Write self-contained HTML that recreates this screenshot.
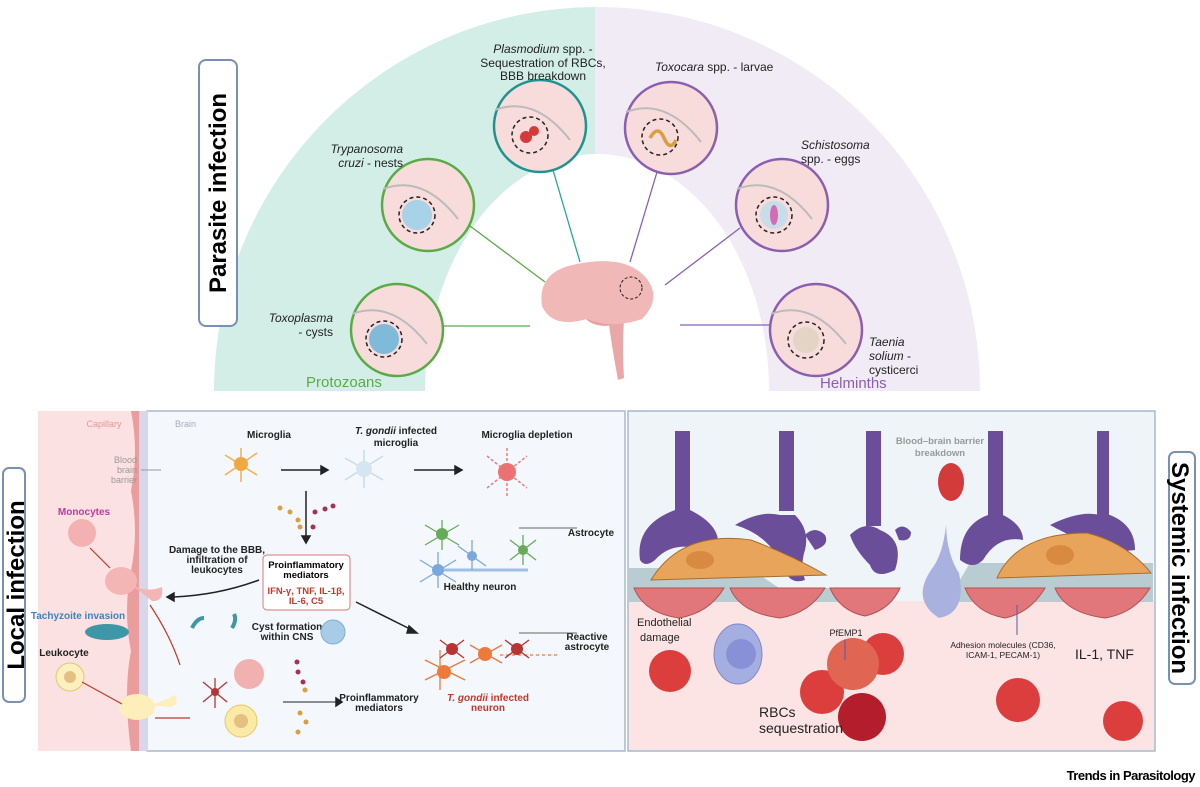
<!DOCTYPE html>
<html><head><meta charset="utf-8"><style>
body{margin:0;background:#fff;}
svg{display:block;font-family:"Liberation Sans",sans-serif;}
.i{font-style:italic}
</style></head><body>
<svg width="1200" height="787" viewBox="0 0 1200 787" xmlns="http://www.w3.org/2000/svg">
<defs>
<clipPath id="L"><rect x="0" y="0" width="595" height="391"/></clipPath>
<clipPath id="R"><rect x="595" y="0" width="605" height="391"/></clipPath>
</defs>
<!-- arc band -->
<ellipse cx="597" cy="391" rx="383" ry="384" fill="#d3eee7" clip-path="url(#L)"/>
<ellipse cx="597" cy="391" rx="383" ry="384" fill="#f1ebf5" clip-path="url(#R)"/>
<ellipse cx="597" cy="391" rx="172" ry="237" fill="#fff" clip-path="url(#L)"/>
<ellipse cx="597" cy="391" rx="172" ry="237" fill="#fff" clip-path="url(#R)"/>
<text x="306" y="387" font-size="15" fill="#5aab46">Protozoans</text>
<text x="820" y="388" font-size="15" fill="#8a5fb0">Helminths</text>
<!-- connectors -->
<g stroke-width="1.3">
<line x1="443" y1="326" x2="530" y2="326" stroke="#5aab46"/>
<line x1="470" y1="226" x2="545" y2="282" stroke="#5aab46"/>
<line x1="553" y1="170" x2="580" y2="262" stroke="#2aa3a0"/>
<line x1="657" y1="172" x2="630" y2="262" stroke="#8a5fb0"/>
<line x1="740" y1="228" x2="665" y2="285" stroke="#8a5fb0"/>
<line x1="680" y1="325" x2="770" y2="325" stroke="#8a5fb0"/>
</g>
<!-- brain -->
<g>
<ellipse cx="605" cy="312" rx="22" ry="14" fill="#e9a2a4"/>
<path d="M608 318 q4 30 10 62 l6 -2 q-2 -30 0 -58z" fill="#eaa7a8"/>
<path d="M542 306 q-5 -35 35 -42 q50 -10 70 15 q15 20 -5 40 q-30 10 -55 0 q-35 10 -45 -13z" fill="#f1b8b8"/>
<circle cx="631" cy="288" r="11" fill="none" stroke="#222" stroke-dasharray="3,2"/>
</g>
<!-- circles -->
<g stroke-width="2.5" fill="#f7dcdb">
<circle cx="397" cy="330" r="46" stroke="#5aab46"/>
<circle cx="428" cy="205" r="46" stroke="#5aab46"/>
<circle cx="540" cy="126" r="46" stroke="#1f948f"/>
<circle cx="671" cy="128" r="46" stroke="#8a5fb0"/>
<circle cx="782" cy="205" r="46" stroke="#8a5fb0"/>
<circle cx="816" cy="330" r="46" stroke="#8a5fb0"/>
</g>
<g fill="none" stroke="#bbb" stroke-width="2">
<path d="M352 314 q40 -15 75 30"/><path d="M383 189 q40 -15 75 30"/><path d="M495 110 q40 -15 75 30"/>
<path d="M626 112 q40 -15 75 30"/><path d="M737 189 q40 -15 75 30"/><path d="M771 314 q40 -15 75 30"/>
</g>
<g fill="none" stroke="#222" stroke-width="1.5" stroke-dasharray="4,3">
<circle cx="384" cy="339" r="18"/><circle cx="417" cy="215" r="18"/>
<circle cx="530" cy="135" r="18"/><circle cx="660" cy="137" r="18"/>
<circle cx="774" cy="215" r="18"/><circle cx="806" cy="340" r="18"/>
</g>
<circle cx="384" cy="339" r="15" fill="#7fbbd8"/><circle cx="417" cy="215" r="15" fill="#a7d2e8"/>
<circle cx="526" cy="137" r="6" fill="#d53a3a"/><circle cx="534" cy="131" r="5" fill="#d53a3a"/>
<path d="M650 138 q8 -14 14 0 t12 2" stroke="#d8a040" stroke-width="3.5" fill="none"/>
<circle cx="774" cy="215" r="14" fill="#c7dde8"/><ellipse cx="774" cy="215" rx="4" ry="10" fill="#d56ab5"/>
<circle cx="806" cy="340" r="13" fill="#e2d5c6"/>
<g font-size="12" fill="#222">
<text x="543" y="53" text-anchor="middle"><tspan class="i">Plasmodium</tspan> spp. -</text>
<text x="543" y="67" text-anchor="middle">Sequestration of RBCs,</text>
<text x="543" y="80" text-anchor="middle">BBB breakdown</text>
<text x="655" y="71"><tspan class="i">Toxocara</tspan> spp. - larvae</text>
<text x="403" y="153" text-anchor="end" class="i">Trypanosoma</text>
<text x="403" y="167" text-anchor="end"><tspan class="i">cruzi</tspan> - nests</text>
<text x="801" y="149" class="i">Schistosoma</text>
<text x="801" y="163">spp. - eggs</text>
<text x="333" y="322" text-anchor="end" class="i">Toxoplasma</text>
<text x="333" y="336" text-anchor="end">- cysts</text>
<text x="869" y="346" class="i">Taenia</text>
<text x="869" y="360"><tspan class="i">solium</tspan> -</text>
<text x="869" y="374">cysticerci</text>
</g>
<!-- side labels -->
<rect x="199" y="60" width="38" height="266" rx="7" fill="#fff" stroke="#7a8fb5" stroke-width="2"/>
<text transform="translate(226,193) rotate(-90)" text-anchor="middle" font-size="24" font-weight="bold">Parasite infection</text>
<rect x="3" y="468" width="22" height="234" rx="6" fill="#fff" stroke="#7a8fb5" stroke-width="2"/>
<text transform="translate(24,585) rotate(-90)" text-anchor="middle" font-size="24" font-weight="bold">Local infection</text>
<rect x="1169" y="452" width="26" height="232" rx="6" fill="#fff" stroke="#7a8fb5" stroke-width="2"/>
<text transform="translate(1172,568) rotate(90)" text-anchor="middle" font-size="24" font-weight="bold">Systemic infection</text>
<!-- local panel -->
<rect x="38" y="411" width="110" height="340" fill="#fbe1e1"/>
<rect x="147" y="411" width="478" height="340" fill="#f4f7fb" stroke="#a9b8cf" stroke-width="1.5"/>
<rect x="139" y="411" width="9" height="340" fill="#d8d6ea"/>
<path d="M131 411 q8 40 0 80 q8 40 0 80 q-8 40 0 80 q-8 40 0 100 h8 v-340z" fill="#eb9c9c"/>
<g font-size="9" fill="#999"><text x="104" y="427" text-anchor="middle" fill="#e09a9a">Capillary</text><text x="175" y="427" fill="#aab">Brain</text>
<text x="137" y="463" text-anchor="end">Blood</text><text x="137" y="473" text-anchor="end">brain</text><text x="137" y="483" text-anchor="end">barrier</text></g>
<line x1="141" y1="470" x2="161" y2="470" stroke="#999"/>
<g font-size="10" font-weight="bold" fill="#222">
<text x="269" y="438" text-anchor="middle">Microglia</text>
<text x="396" y="434" text-anchor="middle"><tspan class="i">T. gondii</tspan> infected</text>
<text x="396" y="446" text-anchor="middle">microglia</text>
<text x="527" y="438" text-anchor="middle">Microglia depletion</text>
<text x="217" y="553" text-anchor="middle">Damage to the BBB,</text>
<text x="217" y="563" text-anchor="middle">infiltration of</text>
<text x="217" y="573" text-anchor="middle">leukocytes</text>
<text x="591" y="536" text-anchor="middle">Astrocyte</text>
<text x="480" y="590" text-anchor="middle">Healthy neuron</text>
<text x="587" y="640" text-anchor="middle">Reactive</text><text x="587" y="650" text-anchor="middle">astrocyte</text>
<text x="287" y="630" text-anchor="middle">Cyst formation</text><text x="287" y="640" text-anchor="middle">within CNS</text>
<text x="379" y="701" text-anchor="middle">Proinflammatory</text><text x="379" y="711" text-anchor="middle">mediators</text>
<text x="84" y="515" fill="#c03aa0" text-anchor="middle">Monocytes</text>
<text x="78" y="619" fill="#3b83c0" text-anchor="middle">Tachyzoite invasion</text>
<text x="64" y="656" text-anchor="middle">Leukocyte</text>
</g>
<text x="488" y="701" font-size="10" font-weight="bold" fill="#c0392b" text-anchor="middle"><tspan class="i">T. gondii</tspan> infected</text>
<text x="488" y="711" font-size="10" font-weight="bold" fill="#c0392b" text-anchor="middle">neuron</text>
<rect x="263" y="555" width="87" height="55" rx="4" fill="#fff" stroke="#d87a7a"/>
<g font-size="9.5" font-weight="bold" text-anchor="middle"><text x="306" y="568">Proinflammatory</text><text x="306" y="578">mediators</text>
<text x="306" y="594" fill="#c0392b">IFN-γ, TNF, IL-1β,</text><text x="306" y="604" fill="#c0392b">IL-6, C5</text></g>
<g stroke="#222" stroke-width="1.5" fill="#222">
<line x1="281" y1="470" x2="321" y2="470"/><path d="M321 466 l7 4 -7 4z"/>
<line x1="414" y1="470" x2="455" y2="470"/><path d="M455 466 l7 4 -7 4z"/>
<line x1="306" y1="491" x2="306" y2="536"/><path d="M302 536 l4 7 4-7z"/>
<line x1="283" y1="702" x2="336" y2="702" stroke-width="1"/><path d="M336 698 l6 4 -6 4z"/>
<line x1="356" y1="602" x2="412" y2="630"/><path d="M409 626 l8 7 -10 0z"/>
<path d="M259 580 q-40 15 -85 17" fill="none"/><path d="M174 593 l-7 4 7 4z"/>
<line x1="519" y1="528" x2="577" y2="528" stroke="#666" stroke-width="1"/>
<line x1="519" y1="633" x2="577" y2="633" stroke="#666" stroke-width="1"/>
</g>
<g fill="#d8a040"><circle cx="280" cy="508" r="2.5"/><circle cx="290" cy="512" r="2.5"/><circle cx="298" cy="520" r="2.5"/><circle cx="300" cy="527" r="2.5"/><circle cx="305" cy="690" r="2.5"/><circle cx="300" cy="713" r="2.5"/><circle cx="306" cy="722" r="2.5"/><circle cx="298" cy="732" r="2.5"/></g>
<g fill="#a83050"><circle cx="315" cy="512" r="2.5"/><circle cx="325" cy="509" r="2.5"/><circle cx="333" cy="506" r="2.5"/><circle cx="313" cy="527" r="2.5"/><circle cx="297" cy="662" r="2.5"/><circle cx="298" cy="672" r="2.5"/><circle cx="303" cy="682" r="2.5"/></g>
<!-- microglia -->
<g stroke="#f0b050" stroke-width="1.5"><line x1="225" y1="455" x2="257" y2="475"/><line x1="225" y1="475" x2="257" y2="453"/><line x1="241" y1="448" x2="241" y2="482"/></g>
<circle cx="241" cy="464" r="7" fill="#f0a840"/>
<g stroke="#c8dcea" stroke-width="1.5"><line x1="345" y1="458" x2="383" y2="480"/><line x1="345" y1="480" x2="383" y2="456"/><line x1="364" y1="450" x2="364" y2="488"/></g>
<circle cx="364" cy="469" r="8" fill="#d6e6f0"/>
<g stroke="#e88080" stroke-width="1.5" stroke-dasharray="3,2"><line x1="487" y1="456" x2="527" y2="488"/><line x1="487" y1="488" x2="527" y2="456"/><line x1="507" y1="448" x2="507" y2="496"/></g>
<circle cx="507" cy="472" r="9" fill="#ea7272"/>
<!-- neurons -->
<path d="M438 570 h90" stroke="#9cc0e8" stroke-width="3"/>
<g stroke-width="1.3" fill="none"><path d="M425 525 l34 20 M442 520 v30 M425 545 l34 -20" stroke="#67ab5a"/><path d="M510 540 l26 20 M523 535 v30 M510 560 l26 -20" stroke="#67ab5a"/>
<path d="M420 560 l36 22 M438 552 v36 M420 582 l36 -22" stroke="#7aa8dc"/><path d="M458 546 l28 20 M472 540 v30" stroke="#7aa8dc"/></g>
<circle cx="442" cy="534" r="6" fill="#67ab5a"/><circle cx="523" cy="550" r="5" fill="#67ab5a"/><circle cx="438" cy="570" r="6" fill="#7aa8dc"/><circle cx="472" cy="556" r="5" fill="#7aa8dc"/>
<g stroke-width="1.3" fill="none" stroke="#ea7a3a"><path d="M425 660 l40 20 M425 680 l40 -20 M440 650 v40"/><path d="M470 645 l32 18 M470 663 l32 -18"/><path d="M500 655 h60" stroke-dasharray="3,3"/></g>
<g stroke="#b83434" stroke-width="1.3"><path d="M440 640 l24 18 M440 658 l24 -18 M505 640 l24 18 M505 658 l24 -18"/></g>
<circle cx="452" cy="649" r="6" fill="#b83434"/><circle cx="485" cy="654" r="7" fill="#ee7a3a"/><circle cx="517" cy="649" r="6" fill="#b83434"/><circle cx="444" cy="672" r="7" fill="#ee7a3a"/>
<circle cx="333" cy="632" r="12" fill="#a9cce6" stroke="#7ab0d8"/>
<circle cx="249" cy="674" r="15" fill="#f1b1b1"/><circle cx="241" cy="721" r="16" fill="#fbe9a6" stroke="#e5c86a"/><circle cx="241" cy="721" r="7" fill="#e5c080"/>
<g stroke="#b83434" stroke-width="1.3"><path d="M203 682 l24 20 M203 702 l24 -20 M215 678 v30"/></g><circle cx="215" cy="692" r="4" fill="#b83434"/>
<path d="M192 628 q5 -10 12 -10" stroke="#3d97a6" stroke-width="4" fill="none"/><path d="M232 628 q5 -8 2 -14" stroke="#3d97a6" stroke-width="4" fill="none"/>
<circle cx="82" cy="533" r="14" fill="#f4b1b1"/><circle cx="70" cy="677" r="14" fill="#fdf0c0" stroke="#e5c86a"/><circle cx="70" cy="677" r="6" fill="#e5c080"/>
<ellipse cx="107" cy="632" rx="22" ry="8" fill="#3d97a6"/>
<ellipse cx="137" cy="707" rx="18" ry="13" fill="#fdeeba"/><path d="M150 705 q15 -4 25 -10 q5 10 -5 12z" fill="#fdeeba"/>
<ellipse cx="121" cy="581" rx="16" ry="14" fill="#f4b5b5"/><path d="M132 585 q15 8 30 2 q2 15 -10 14 z" fill="#f4b5b5"/>
<g stroke="#c0392b" stroke-width="1.2" fill="none"><path d="M90 548 l20 20"/><path d="M150 605 q20 30 30 60"/><path d="M82 682 l40 22"/><path d="M155 718 h35"/></g>
<!-- systemic panel -->
<rect x="628" y="411" width="527" height="340" fill="#eef4f8" stroke="#a9b8cf" stroke-width="1.5"/>
<rect x="629" y="601" width="525" height="149" fill="#fde4e4"/>
<path d="M629 568 h120 l30 20 l60 0 v14 h-210z" fill="#b8ccd1"/>
<path d="M955 588 l15 -25 h183 v39 h-198z" fill="#b8ccd1"/>
<g fill="#6a4e99">
<rect x="675" y="431" width="15" height="85"/><path d="M640 560 q-5 -35 35 -50 h15 q30 15 28 35 q-5 10 -15 5 q-30 -10 -48 10 q-10 8 -15 0z"/>
<rect x="779" y="431" width="15" height="80"/><path d="M735 525 q25 -15 45 -10 h15 q15 15 10 35 q-5 15 0 30 q-15 5 -20 -10 q-15 -35 -50 -45z"/>
<path d="M805 535 q10 -10 20 0 q5 10 -10 15 z"/>
<rect x="866" y="431" width="15" height="95"/><path d="M850 535 q15 -15 30 -5 q25 10 15 40 q-20 10 -25 -5 q-15 -15 -20 -30z"/>
<path d="M895 530 q8 -8 16 2 q0 10 -12 8z"/>
<rect x="988" y="431" width="15" height="90"/><path d="M960 560 q0 -35 28 -45 h15 q20 10 20 25 q-25 -5 -40 20 q-10 10 -23 0z"/>
<rect x="1097" y="431" width="12" height="85"/><path d="M1050 525 q30 -15 50 -10 h10 q25 10 25 35 q-30 5 -85 -25z"/>
</g>
<path d="M651 580 q30 -50 100 -40 q40 15 75 35 z" fill="#e9a45c" stroke="#a86d2c"/>
<ellipse cx="700" cy="560" rx="14" ry="9" fill="#d88a40"/>
<path d="M997 578 q20 -45 90 -45 q40 10 64 40 z" fill="#e9a45c" stroke="#a86d2c"/>
<ellipse cx="1060" cy="555" rx="14" ry="10" fill="#d88a40"/>
<g fill="#e1777b" stroke="#b25053">
<path d="M634 588 h90 q-15 25 -45 30 q-35 -5 -45 -30z"/><path d="M730 588 h95 q-15 25 -45 30 q-40 -5 -50 -30z"/>
<path d="M830 588 h70 q-10 22 -35 28 q-25 -5 -35 -28z"/><path d="M965 588 h80 q-15 25 -40 30 q-30 -5 -40 -30z"/>
<path d="M1055 588 h95 q-15 25 -45 30 q-40 -5 -50 -30z"/>
</g>
<path d="M946 525 q-3 30 -15 45 q-20 30 8 48 q28 -5 20 -45 q-12 -18 -13 -48z" fill="#a9b1df"/>
<ellipse cx="951" cy="482" rx="13" ry="19" fill="#d33a3a"/>
<ellipse cx="738" cy="654" rx="24" ry="30" fill="#a5aee0" stroke="#8088c8"/><circle cx="741" cy="654" r="15" fill="#8891d8"/>
<g fill="#dc3e3e"><circle cx="670" cy="671" r="21"/><circle cx="883" cy="654" r="21"/><circle cx="822" cy="692" r="22"/><circle cx="1018" cy="700" r="22"/><circle cx="1123" cy="721" r="20"/></g>
<circle cx="853" cy="664" r="26" fill="#e06552"/>
<circle cx="862" cy="717" r="24" fill="#b41e2c"/>
<line x1="1017" y1="605" x2="1017" y2="635" stroke="#4a5bb0"/><line x1="845" y1="640" x2="845" y2="660" stroke="#4a5bb0"/>
<g font-size="11" fill="#222">
<text x="637" y="626">Endothelial</text><text x="640" y="641">damage</text>
<text x="846" y="636" font-size="9" text-anchor="middle">PfEMP1</text>
<text x="940" y="444" fill="#999" font-size="9.5" font-weight="bold" text-anchor="middle">Blood–brain barrier</text>
<text x="940" y="456" fill="#999" font-size="9.5" font-weight="bold" text-anchor="middle">breakdown</text>
<text x="1003" y="648" font-size="8.5" text-anchor="middle">Adhesion molecules (CD36,</text>
<text x="1003" y="658" font-size="8.5" text-anchor="middle">ICAM-1, PECAM-1)</text>
<text x="1075" y="659" font-size="14">IL-1, TNF</text>
<text x="759" y="717" font-size="14">RBCs</text><text x="759" y="733" font-size="14">sequestration</text>
</g>
<text x="1195" y="780" text-anchor="end" font-size="13" font-weight="bold" letter-spacing="-0.5">Trends in Parasitology</text>
</svg>
</body></html>
